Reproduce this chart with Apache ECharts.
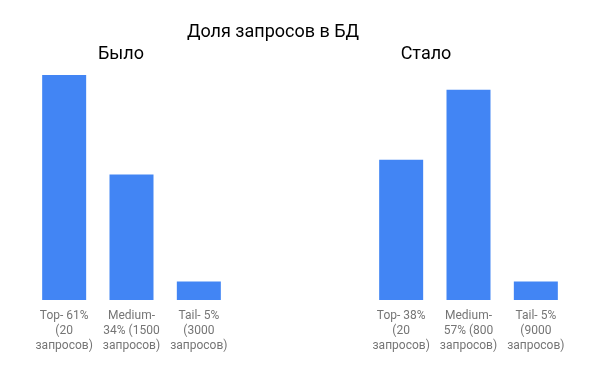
<!DOCTYPE html>
<html><head><meta charset="utf-8">
<script src="https://cdn.jsdelivr.net/npm/echarts@6/dist/echarts.min.js"></script>
<style>html,body{margin:0;padding:0;background:#fff}#c{width:600px;height:371px}</style>
</head><body><div id="c"></div>
<script>
const beforeCategories = ["Top- 61%\n(20\nзапросов)", "Medium-\n34% (1500\nзапросов)", "Tail- 5%\n(3000\nзапросов)"];
const beforeValues = [61, 34, 5];
const afterCategories = ["Top- 38%\n(20\nзапросов)", "Medium-\n57% (800\nзапросов)", "Tail- 5%\n(9000\nзапросов)"];
const afterValues = [38, 57, 5];

const chart = echarts.init(document.getElementById('c'), null, {renderer: 'canvas'});
const axisLabel = {color: '#757575', fontFamily: 'Roboto', fontSize: 12, lineHeight: 15, interval: 0, margin: 8};
const xBase = {type: 'category', axisLine: {show: false}, axisTick: {show: false}, axisLabel};
const yBase = {type: 'value', min: 0, max: 61, show: false, splitLine: {show: false}};
chart.setOption({
  animation: false,
  title: [
    {text: 'Доля запросов в БД', left: 268, top: 18, textAlign: 'center', textStyle: {fontFamily: 'Roboto', fontSize: 18, fontWeight: 'normal', color: '#000'}},
    {text: 'Было', left: 116, top: 40, textAlign: 'center', textStyle: {fontFamily: 'Roboto', fontSize: 18, fontWeight: 'normal', color: '#000'}},
    {text: 'Стало', left: 421, top: 40, textAlign: 'center', textStyle: {fontFamily: 'Roboto', fontSize: 18, fontWeight: 'normal', color: '#000'}}
  ],
  grid: [
    {left: 30.5, width: 202, top: 75, height: 225},
    {left: 367.5, width: 202, top: 75, height: 225}
  ],
  xAxis: [
    Object.assign({gridIndex: 0, data: beforeCategories}, xBase),
    Object.assign({gridIndex: 1, data: afterCategories}, xBase)
  ],
  yAxis: [
    Object.assign({gridIndex: 0}, yBase),
    Object.assign({gridIndex: 1}, yBase)
  ],
  series: [
    {type: 'bar', xAxisIndex: 0, yAxisIndex: 0, data: beforeValues, barWidth: 44, itemStyle: {color: '#4285F4'}},
    {type: 'bar', xAxisIndex: 1, yAxisIndex: 1, data: afterValues, barWidth: 44, itemStyle: {color: '#4285F4'}}
  ]
});
</script></body></html>
